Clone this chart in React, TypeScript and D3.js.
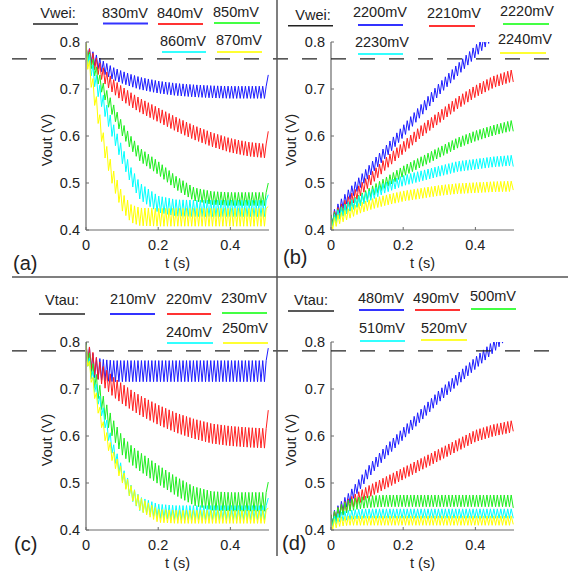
import * as d3 from 'd3';
import React from 'react';

const tKnots = [0, 0.025, 0.05, 0.075, 0.1, 0.125, 0.15, 0.2, 0.25, 0.3, 0.35, 0.4, 0.45, 0.5];
const tEnd = 0.505;
const halfPeriod = 0.0048;

const xTicks = [0, 0.2, 0.4];
const xTickLabels = ['0', '0.2', '0.4'];
const yTicks = [0.4, 0.5, 0.6, 0.7, 0.8];
const yTickLabels = ['0.4', '0.5', '0.6', '0.7', '0.8'];

const thresholdTop = 0.764;
const thresholdBottom = 0.781;

// (a) Vwei sweep, decaying
const labelsA = ['830mV', '840mV', '850mV', '860mV', '870mV'];
const midA = [
  [0.78, 0.762, 0.745, 0.733, 0.725, 0.718, 0.712, 0.704, 0.699, 0.696, 0.694, 0.693, 0.693, 0.693],
  [0.78, 0.755, 0.728, 0.706, 0.69, 0.677, 0.665, 0.645, 0.625, 0.607, 0.592, 0.58, 0.572, 0.568],
  [0.78, 0.74, 0.695, 0.655, 0.615, 0.585, 0.56, 0.532, 0.5, 0.476, 0.468, 0.466, 0.466, 0.466],
  [0.78, 0.72, 0.665, 0.61, 0.56, 0.515, 0.482, 0.455, 0.447, 0.446, 0.446, 0.446, 0.446, 0.446],
  [0.78, 0.68, 0.58, 0.51, 0.46, 0.435, 0.428, 0.427, 0.427, 0.427, 0.427, 0.427, 0.427, 0.427],
];
const ampA = [0.026, 0.03, 0.028, 0.035, 0.038];
const endA = [0.73, 0.61, 0.5, 0.475, 0.45];

// (b) Vwei sweep, rising
const labelsB = ['2200mV', '2210mV', '2220mV', '2230mV', '2240mV'];
const midB = [
  [0.42, 0.45, 0.475, 0.497, 0.52, 0.543, 0.565, 0.61, 0.655, 0.7, 0.74, 0.78, 0.82, 0.86],
  [0.42, 0.44, 0.46, 0.48, 0.5, 0.52, 0.54, 0.575, 0.61, 0.64, 0.67, 0.695, 0.715, 0.728],
  [0.42, 0.437, 0.45, 0.462, 0.475, 0.488, 0.5, 0.525, 0.545, 0.565, 0.585, 0.6, 0.612, 0.622],
  [0.415, 0.435, 0.45, 0.46, 0.47, 0.48, 0.49, 0.505, 0.515, 0.525, 0.535, 0.54, 0.545, 0.548],
  [0.41, 0.425, 0.435, 0.445, 0.452, 0.458, 0.463, 0.472, 0.478, 0.484, 0.488, 0.49, 0.492, 0.493],
];
const ampB = [0.025, 0.025, 0.022, 0.022, 0.022];
const endB = [0.87, 0.715, 0.61, 0.535, 0.485];

// (c) Vtau sweep, decaying
const labelsC = ['210mV', '220mV', '230mV', '240mV', '250mV'];
const midC = [
  [0.78, 0.745, 0.74, 0.738, 0.738, 0.738, 0.738, 0.738, 0.738, 0.738, 0.738, 0.738, 0.738, 0.738],
  [0.78, 0.75, 0.725, 0.705, 0.69, 0.677, 0.665, 0.645, 0.628, 0.615, 0.605, 0.6, 0.597, 0.595],
  [0.78, 0.72, 0.66, 0.615, 0.58, 0.56, 0.545, 0.518, 0.493, 0.472, 0.462, 0.46, 0.46, 0.46],
  [0.78, 0.705, 0.64, 0.57, 0.52, 0.48, 0.455, 0.44, 0.437, 0.437, 0.437, 0.437, 0.437, 0.437],
  [0.78, 0.69, 0.61, 0.555, 0.515, 0.48, 0.455, 0.43, 0.428, 0.428, 0.428, 0.428, 0.428, 0.428],
];
const ampC = [0.045, 0.042, 0.04, 0.03, 0.028];
const endC = [0.787, 0.655, 0.502, 0.468, 0.447];

// (d) Vtau sweep, rising
const labelsD = ['480mV', '490mV', '500mV', '510mV', '520mV'];
const midD = [
  [0.42, 0.445, 0.467, 0.493, 0.52, 0.543, 0.565, 0.605, 0.645, 0.685, 0.72, 0.755, 0.79, 0.83],
  [0.42, 0.44, 0.455, 0.468, 0.48, 0.49, 0.5, 0.52, 0.54, 0.56, 0.58, 0.6, 0.612, 0.62],
  [0.42, 0.44, 0.452, 0.457, 0.46, 0.461, 0.462, 0.462, 0.462, 0.462, 0.462, 0.462, 0.462, 0.462],
  [0.415, 0.428, 0.432, 0.434, 0.435, 0.435, 0.435, 0.435, 0.435, 0.435, 0.435, 0.435, 0.435, 0.435],
  [0.41, 0.418, 0.42, 0.42, 0.42, 0.42, 0.42, 0.42, 0.42, 0.42, 0.42, 0.42, 0.42, 0.42],
];
const ampD = [0.025, 0.025, 0.025, 0.02, 0.02];
const endD = [0.87, 0.61, 0.447, 0.425, 0.412];

const colors = ['#1c1cff', '#ff1f1f', '#1fee1f', '#00ffff', '#ffff00'];
const legendColors = ['#3333ff', '#ff3333', '#44ff44', '#33ffff', '#ffff33'];
const FONT = 'Liberation Sans, Arial, Helvetica, sans-serif';

// legend layout per panel: [textCenterX, textCenterY, lineX1, lineX2, lineY]
const legendLayout = {
  a: { title: [58, 13, 33, 78, 24], items: [[125, 13, 103, 148, 23.5], [180, 13, 158, 203, 24], [236, 12, 214, 260, 23], [183, 41, 162, 206, 52], [239, 40, 217, 262, 52]] },
  b: { title: [313, 15, 288, 333, 25.7], items: [[380, 12, 358, 403, 25], [454, 13, 429, 475, 26], [527, 11, 503, 549, 24], [382, 42, 358, 403, 54], [525, 39, 500, 546, 53]] },
  c: { title: [62, 300, 39, 85, 314], items: [[133, 299, 110, 155, 314], [189, 299, 167, 211, 314], [244, 298, 222, 267, 313], [189, 332, 167, 213, 343], [245, 328, 223, 268, 343]] },
  d: { title: [311, 300, 288, 334, 311], items: [[381, 298, 359, 404, 310], [436, 298, 415, 460, 310], [493, 296, 471, 516, 309], [382, 328, 360, 405, 341], [444, 328, 421, 467, 340]] },
};

const panels = [
  { id: 'a', title: 'Vwei:', labels: labelsA, mids: midA, amps: ampA, ends: endA, xr: [86, 269], yr: [230, 42], ylabX: 52, tag: [13, 270] },
  { id: 'b', title: 'Vwei:', labels: labelsB, mids: midB, amps: ampB, ends: endB, xr: [331, 514], yr: [230, 42], ylabX: 296, tag: [283, 264] },
  { id: 'c', title: 'Vtau:', labels: labelsC, mids: midC, amps: ampC, ends: endC, xr: [86, 269], yr: [530, 342], ylabX: 52, tag: [14, 551] },
  { id: 'd', title: 'Vtau:', labels: labelsD, mids: midD, amps: ampD, ends: endD, xr: [331, 514], yr: [530, 342], ylabX: 296, tag: [282, 550] },
];

function zigzag(mid: number[], amp: number, end: number) {
  const env = d3.scaleLinear().domain(tKnots).range(mid);
  const pts: [number, number][] = [];
  const n = Math.floor(0.5 / halfPeriod);
  for (let k = 0; k <= n; k++) {
    const t = k * halfPeriod;
    pts.push([t, env(t) + (k % 2 === 0 ? amp / 2 : -amp / 2)]);
  }
  pts.push([tEnd, end]);
  return pts;
}

function Panel({ p }: { p: typeof panels[number] }) {
  const x = d3.scaleLinear().domain([0, 0.507]).range(p.xr);
  const y = d3.scaleLinear().domain([0.4, 0.8]).range(p.yr);
  const line = d3.line<[number, number]>().x(d => x(d[0])).y(d => y(d[1]));
  const lay = (legendLayout as any)[p.id];
  const clipId = 'clip-' + p.id;
  return (
    <g>
      <defs>
        <clipPath id={clipId}>
          <rect x={p.xr[0]} y={p.yr[1]} width={p.xr[1] - p.xr[0]} height={p.yr[0] - p.yr[1]} />
        </clipPath>
      </defs>
      <g clipPath={`url(#${clipId})`}>
        {p.mids.map((m, i) => (
          <path key={i} d={line(zigzag(m, p.amps[i], p.ends[i])) || ''} fill="none" stroke={colors[i]} strokeWidth={1} />
        ))}
      </g>
      {/* axes */}
      <line x1={p.xr[0]} x2={p.xr[0]} y1={p.yr[0]} y2={p.yr[1]} stroke="#6a6a6a" strokeWidth={1.2} />
      <line x1={p.xr[0]} x2={p.xr[1]} y1={p.yr[0]} y2={p.yr[0]} stroke="#6a6a6a" strokeWidth={1.2} />
      {yTicks.map((v, i) => (
        <g key={'y' + i}>
          <line x1={p.xr[0]} x2={p.xr[0] + 3} y1={y(v)} y2={y(v)} stroke="#6a6a6a" />
          <text x={p.xr[0] - 6} y={y(v) + 5} textAnchor="end" fontSize={14.5} fontFamily={FONT} fill="#222">{yTickLabels[i]}</text>
        </g>
      ))}
      {xTicks.map((v, i) => (
        <g key={'x' + i}>
          <line x1={x(v)} x2={x(v)} y1={p.yr[0]} y2={p.yr[0] - 3} stroke="#6a6a6a" />
          <text x={x(v)} y={p.yr[0] + 20} textAnchor="middle" fontSize={14.5} fontFamily={FONT} fill="#222">{xTickLabels[i]}</text>
        </g>
      ))}
      <text x={(p.xr[0] + p.xr[1]) / 2} y={p.yr[0] + 38} textAnchor="middle" fontSize={14.5} fontFamily={FONT} fill="#222">t (s)</text>
      <text transform={`translate(${p.ylabX},${(p.yr[0] + p.yr[1]) / 2 + 4}) rotate(-90)`} textAnchor="middle" fontSize={14.5} fontFamily={FONT} fill="#222">Vout (V)</text>
      <text x={p.tag[0]} y={p.tag[1]} fontSize={20} fontFamily={FONT} fill="#222">({p.id})</text>
      {/* legend */}
      <text x={lay.title[0]} y={lay.title[1]} dy="0.35em" textAnchor="middle" fontSize={14.5} fontFamily={FONT} fill="#222">{p.title}</text>
      <line x1={lay.title[2]} x2={lay.title[3]} y1={lay.title[4]} y2={lay.title[4]} stroke="#222" strokeWidth={1.5} />
      {p.labels.map((lab, i) => {
        const it = lay.items[i];
        return (
          <g key={'l' + i}>
            <text x={it[0]} y={it[1]} dy="0.35em" textAnchor="middle" fontSize={14.5} fontFamily={FONT} fill="#222">{lab}</text>
            <line x1={it[2]} x2={it[3]} y1={it[4]} y2={it[4]} stroke={legendColors[i]} strokeWidth={2} />
          </g>
        );
      })}
    </g>
  );
}

export default function App() {
  const yTop = d3.scaleLinear().domain([0.4, 0.8]).range([230, 42]);
  const yBot = d3.scaleLinear().domain([0.4, 0.8]).range([530, 342]);
  return (
    <svg width={575} height={577} style={{ position: 'absolute', left: 0, top: 0, background: '#fff' }}>
      {panels.map(p => <Panel key={p.id} p={p} />)}
      <line x1={12} x2={562} y1={yTop(thresholdTop)} y2={yTop(thresholdTop)} stroke="#222" strokeWidth={1.3} strokeDasharray="15 14" />
      <line x1={12} x2={562} y1={yBot(thresholdBottom)} y2={yBot(thresholdBottom)} stroke="#222" strokeWidth={1.3} strokeDasharray="15 14" />
      <line x1={277} x2={277} y1={0} y2={556} stroke="#555" strokeWidth={1.5} />
      <line x1={12} x2={568} y1={277} y2={277} stroke="#555" strokeWidth={1.5} />
    </svg>
  );
}
